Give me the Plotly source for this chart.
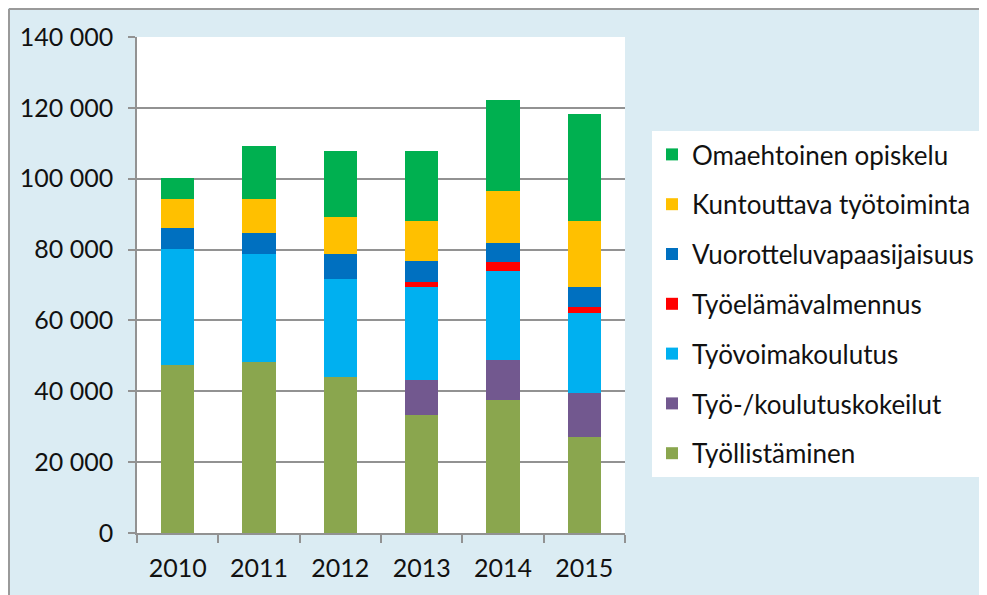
import plotly.graph_objects as go

YEARS = ["2010", "2011", "2012", "2013", "2014", "2015"]

# stacked from bottom to top
SERIES = [
    "Työllistäminen",
    "Työ-/koulutuskokeilut",
    "Työvoimakoulutus",
    "Työelämävalmennus",
    "Vuorotteluvapaasijaisuus",
    "Kuntouttava työtoiminta",
    "Omaehtoinen opiskelu",
]
TYOLLISTAMINEN = [47400, 48400, 44100, 33400, 37600, 27200]
KOKEILUT = [0, 0, 0, 9800, 11100, 12300]
KOULUTUS = [32750, 30400, 27600, 26300, 25300, 22500]
VALMENNUS = [0, 0, 0, 1250, 2400, 1850]
VUOROTTELU = [6000, 5900, 7000, 6100, 5500, 5600]
KUNTOUTTAVA = [8000, 9450, 10400, 11200, 14600, 18700]
OPISKELU = [6000, 15000, 18700, 19800, 25800, 30000]

VALUES = [TYOLLISTAMINEN, KOKEILUT, KOULUTUS, VALMENNUS, VUOROTTELU, KUNTOUTTAVA, OPISKELU]
COLORS = ["#8AA64E", "#72588F", "#00B0F0", "#FF0000", "#0070C0", "#FFC000", "#00B050"]

BG = "#DBECF3"
GRID = "#929292"
FONT = "Lato"

fig = go.Figure()
for i, (name, vals, col) in enumerate(zip(SERIES, VALUES, COLORS)):
    fig.add_trace(go.Bar(
        x=YEARS, y=vals, name=name, legendgroup=name,
        legendrank=100 - i,  # top of stack first in legend
        marker={"color": col, "line": {"width": 0}},
    ))

# page body has an 8px margin, so screen pixel p sits at figure pixel p - 8.
# plot area on screen spans x 137..625, y 37..533
def px_x(p):
    return (p - 137) / 488

def px_y(p):
    return 1 - (p - 37) / 496

# grey frame along the top and left edges of the chart
shapes = [
    dict(type="line", xref="paper", yref="paper", x0=px_x(9), x1=px_x(1000),
         y0=px_y(9), y1=px_y(9), line={"color": "#9A9A9A", "width": 2}),
    dict(type="line", xref="paper", yref="paper", x0=px_x(9), x1=px_x(9),
         y0=px_y(9), y1=px_y(610), line={"color": "#9A9A9A", "width": 2}),
]

fig.update_layout(
    width=987, height=595,
    margin={"l": 129, "r": 370, "t": 29, "b": 70},
    barmode="stack", bargap=0.59,
    paper_bgcolor=BG, plot_bgcolor="white",
    font={"family": FONT, "size": 25, "color": "#111111"},
    separators=", ",
    showlegend=True,
    legend={
        "x": px_x(652), "y": px_y(131), "xanchor": "left", "yanchor": "top",
        "bgcolor": "white", "traceorder": "grouped",
        "tracegroupgap": 13, "font": {"family": FONT, "size": 26, "color": "#111111"},
    },
    shapes=shapes,
    xaxis={
        "showline": True, "linecolor": GRID, "linewidth": 1.5,
        "ticks": "outside", "tickson": "boundaries", "ticklen": 8,
        "tickcolor": GRID, "tickwidth": 1.5, "showgrid": False,
        "tickfont": {"size": 25}, "ticklabelstandoff": 12,
    },
    yaxis={
        "range": [0, 140000], "tickvals": list(range(0, 140001, 20000)),
        "tickformat": ",d", "showline": True, "linecolor": GRID, "linewidth": 1.5,
        "ticks": "outside", "ticklen": 7, "tickcolor": GRID, "tickwidth": 1.5,
        "showgrid": True, "gridcolor": GRID, "gridwidth": 1.5, "zeroline": False,
        "tickfont": {"size": 25}, "ticklabelstandoff": 10,
    },
)

fig.write_html("out.html")
